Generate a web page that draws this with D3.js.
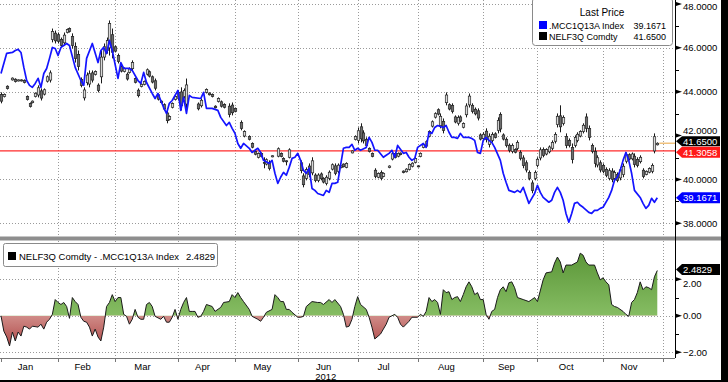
<!DOCTYPE html>
<html><head><meta charset="utf-8">
<script src="https://cdn.jsdelivr.net/npm/d3@7"></script>
<style>
body{margin:0;background:#fff;overflow:hidden}
svg{display:block}
text{font-family:"Liberation Sans",Arial,sans-serif}
</style>
</head><body>
<svg id="chart" width="728" height="382"></svg>
<script>
// ---------------- DATA ----------------
const months = ["Jan","Feb","Mar","Apr","May","Jun","Jul","Aug","Sep","Oct","Nov"];
const monthStart = [0,20,40,62,82,104,125,146,169,188,211,232]; // trading-day index of each month start
const yearLabel = "2012";
const priceTicks = [38,40,42,44,46,48];
const priceMinor = [39,41,43,45,47];
const spreadTicks = [-2,0,2];
const spreadMinor = [-1,1];

const blueName = ".MCC1Q13A Index", blueLast = 39.1671;
const nelfName = "NELF3Q Comdty", nelfLast = 41.65;
const refLevel = 41.3058;
const spreadName = "NELF3Q Comdty - .MCC1Q13A Index", spreadLast = 2.4829;

// [trading day, value]
const blueSeries = [
[0,44.83],[2,45.75],[4,45.79],[5,45.88],[6,45.93],[7,45.79],[8,45.11],[9,44.51],[10,44.29],[11,44.20],
[12,44.38],[13,44.61],[14,44.20],[15,44.83],[16,45.06],[17,45.52],[18,46.02],[19,45.97],[20,45.65],[21,46.02],
[22,46.11],[23,46.20],[24,46.11],[26,45.11],[28,44.51],[29,44.29],[30,45.52],[32,46.20],[34,45.33],[35,45.88],
[36,46.02],[37,45.74],[38,46.34],[39,45.88],[41,44.61],[42,45.33],[43,45.06],[45,45.06],[46,44.97],[48,44.51],
[49,44.38],[50,44.88],[51,44.42],[53,43.92],[54,43.69],[55,43.92],[56,43.60],[57,43.28],[58,43.01],[59,43.47],
[60,43.60],[62,44.06],[63,43.15],[64,43.74],[65,43.01],[66,43.83],[67,43.74],[70,43.69],[71,43.97],[72,43.24],
[74,43.24],[76,43.15],[77,42.83],[79,42.46],[80,42.60],[81,42.33],[82,42.10],[83,41.64],[84,41.42],[85,41.64],
[87,41.42],[88,41.23],[89,41.33],[90,41.42],[91,41.23],[92,40.87],[94,40.73],[95,40.87],[96,40.28],[97,39.82],
[98,40.10],[99,40.32],[100,40.19],[101,40.55],[102,40.96],[103,41.01],[104,41.19],[105,40.87],[106,40.41],[107,40.28],
[108,40.51],[109,39.59],[110,39.50],[111,39.36],[113,39.27],[114,39.50],[115,39.41],[116,39.82],[117,39.82],[118,39.87],
[120,41.42],[121,41.46],[122,41.46],[123,41.60],[124,41.33],[125,41.42],[126,41.33],[128,41.46],[129,41.92],[130,41.69],
[131,41.33],[132,41.33],[134,41.01],[135,41.10],[136,41.19],[137,41.33],[138,41.01],[139,41.55],[141,41.19],[142,41.23],
[143,41.01],[144,40.87],[145,40.96],[146,41.46],[148,41.64],[149,41.46],[150,42.15],[151,42.10],[152,42.37],[153,42.46],
[155,42.37],[156,42.46],[157,42.15],[158,41.92],[159,41.92],[160,41.87],[161,42.10],[162,41.92],[164,41.92],[165,41.87],
[166,41.78],[167,41.23],[168,41.19],[169,41.78],[170,41.92],[171,41.78],[172,41.69],[173,41.46],[175,40.87],[176,40.28],
[177,39.87],[178,39.50],[180,39.41],[181,39.50],[182,39.41],[183,39.64],[185,38.91],[186,39.14],[187,39.36],[188,39.73],
[189,39.41],[190,39.18],[192,38.96],[193,39.05],[194,39.41],[195,39.64],[196,39.41],[197,39.05],[198,38.45],[199,38.05],
[200,38.45],[201,38.91],[202,38.96],[203,38.82],[204,38.73],[206,38.50],[207,38.45],[208,38.59],[209,38.59],[210,38.68],
[211,38.73],[213,39.18],[214,39.50],[215,39.96],[216,40.10],[217,40.41],[218,40.87],[219,41.23],[220,40.87],[221,40.28],
[222,39.50],[224,39.18],[225,38.91],[226,38.68],[227,38.82],[228,39.14],[229,38.96],[230,39.1671]
];

// [trading day, open, high, low, close]
const nelfOHLC = [
[0,43.87,43.97,43.47,43.57],[1,43.78,43.92,43.74,43.88],[2,44.25,44.29,44.10,44.14],[4,44.54,44.65,44.51,44.62],
[5,44.57,44.61,44.42,44.46],[6,44.49,44.56,44.47,44.54],[7,44.54,44.56,44.47,44.49],[8,44.52,44.56,44.38,44.42],
[9,43.78,43.83,43.60,43.64],[10,43.47,43.51,43.28,43.32],[11,43.50,43.60,43.47,43.57],[12,43.78,43.97,43.74,43.93],
[13,43.85,44.29,43.74,44.18],[14,44.04,44.15,43.60,43.71],[15,43.89,44.15,43.83,44.09],[16,44.48,44.74,44.42,44.68],
[17,44.53,44.97,44.42,44.86],[18,46.38,46.88,46.25,46.75],[19,46.67,46.79,46.20,46.32],[20,46.60,46.70,46.20,46.30],
[21,46.38,46.47,46.02,46.11],[22,46.23,46.70,46.11,46.58],[23,46.70,46.88,46.66,46.84],[24,46.88,46.93,46.70,46.75],
[25,46.52,46.66,45.97,46.11],[26,46.07,46.25,45.33,45.51],[27,45.70,45.88,44.97,45.15],[28,44.56,44.65,44.20,44.29],
[29,43.72,44.20,43.60,44.08],[30,44.41,44.88,44.29,44.76],[31,44.35,44.97,44.20,44.82],[32,44.86,44.97,44.42,44.53],
[33,44.79,44.97,44.74,44.92],[34,44.30,44.38,43.97,44.05],[35,44.68,45.88,44.38,45.58],[36,45.58,46.20,45.43,46.05],
[37,45.89,46.47,45.74,46.33],[38,46.00,47.25,45.65,47.11],[39,46.60,46.88,45.52,45.80],[40,46.05,46.11,45.79,45.85],
[41,45.65,45.74,45.29,45.38],[42,45.14,45.20,44.88,44.94],[43,44.92,45.11,44.88,45.06],[44,44.80,44.88,44.51,44.58],
[45,44.88,45.11,44.83,45.05],[46,45.05,45.43,44.97,45.33],[47,44.60,44.65,44.38,44.43],[48,44.07,44.15,43.74,43.82],
[49,44.24,44.38,44.20,44.34],[50,44.33,44.51,44.29,44.47],[51,44.80,45.06,44.74,45.00],[52,44.91,44.97,44.65,44.71],
[53,44.68,44.74,44.38,44.44],[54,44.50,44.60,44.06,44.16],[55,43.86,43.92,43.60,43.66],[56,43.57,43.60,43.47,43.50],
[57,43.41,43.47,43.15,43.21],[58,43.03,43.15,42.56,42.68],[59,42.74,42.92,42.69,42.87],[60,43.29,43.51,43.24,43.46],
[61,43.65,43.83,43.60,43.78],[62,43.70,44.06,43.60,43.97],[63,43.99,44.20,43.15,43.36],[64,43.78,44.15,43.69,44.06],
[65,43.44,44.60,43.15,44.31],[69,43.44,43.51,43.15,43.22],[70,43.36,43.69,43.28,43.61],[72,43.97,44.15,43.92,44.10],
[73,43.94,43.97,43.83,43.86],[74,43.88,43.92,43.74,43.78],[75,43.34,43.38,43.24,43.27],[76,43.56,43.74,43.51,43.69],
[77,43.54,43.60,43.28,43.34],[78,43.42,43.47,43.24,43.29],[80,43.34,43.47,42.83,42.96],[81,43.39,43.51,42.92,43.04],
[82,43.24,43.28,43.06,43.10],[84,42.60,42.69,42.24,42.33],[85,41.98,42.24,41.92,42.18],[87,41.96,42.01,41.78,41.83],
[88,41.64,41.69,41.42,41.47],[89,41.28,41.33,41.10,41.15],[90,41.01,41.23,40.96,41.18],[91,41.19,41.23,41.01,41.05],
[92,40.78,41.01,40.51,40.74],[93,40.70,40.96,40.64,40.90],[94,40.78,40.87,40.41,40.50],[95,41.03,41.10,41.01,41.08],
[97,41.06,41.46,41.01,41.40],[98,41.19,41.23,41.01,41.05],[99,40.96,41.01,40.78,40.83],[100,40.85,40.87,40.64,40.83],
[101,41.01,41.42,40.96,41.35],[105,40.76,40.87,40.28,40.40],[106,40.16,40.28,39.64,39.76],[107,40.05,40.55,39.96,40.45],
[108,40.61,40.73,40.10,40.22],[109,40.30,41.01,40.19,40.85],[110,40.20,40.28,39.87,39.95],[111,39.95,40.28,39.87,40.20],
[112,40.25,40.32,39.96,40.03],[113,40.05,40.10,39.82,39.88],[114,39.82,40.19,39.73,40.10],[115,40.05,40.41,39.96,40.33],
[116,40.47,40.73,40.41,40.67],[117,40.62,40.73,40.19,40.28],[118,40.36,40.73,40.28,40.65],[119,40.54,40.64,40.51,40.61],
[120,40.70,40.73,40.55,40.58],[121,40.55,40.78,40.51,40.73],[123,41.21,41.33,41.19,41.30],[124,41.82,42.01,41.78,41.96],
[125,41.78,42.37,41.64,42.22],[126,42.40,42.56,41.69,41.85],[127,42.12,42.24,41.64,41.76],[128,41.83,41.92,41.46,41.55],
[129,41.42,41.46,41.23,41.28],[130,41.19,41.23,41.01,41.05],[131,40.42,40.51,40.05,40.14],[132,40.10,40.32,40.05,40.27],
[133,40.32,40.41,39.96,40.05],[134,40.14,40.32,40.10,40.28],[136,40.54,40.64,40.51,40.61],[137,40.93,41.23,40.87,41.17],
[138,41.18,41.23,40.96,41.01],[139,41.06,41.23,41.01,41.19],[140,41.20,41.23,41.10,41.13],[141,40.38,40.41,40.28,40.31],
[142,40.35,40.51,40.32,40.47],[143,40.46,40.73,40.41,40.68],[144,40.60,40.78,40.55,40.74],[145,40.78,41.01,40.73,40.96],
[146,40.62,40.64,40.55,40.58],[147,41.05,41.23,41.01,41.19],[148,41.46,41.64,41.42,41.60],[149,41.52,41.78,41.46,41.72],
[150,41.97,42.24,41.92,42.18],[151,42.43,42.69,42.37,42.63],[152,42.84,43.06,42.78,43.00],[153,43.18,43.24,42.92,42.98],
[154,42.45,43.01,42.33,42.88],[155,42.65,42.78,42.10,42.23],[156,43.50,43.97,43.38,43.85],[157,43.41,43.47,43.15,43.21],
[158,43.38,43.47,43.01,43.10],[159,42.85,42.92,42.56,42.62],[160,42.56,42.92,42.46,42.83],[161,42.85,42.92,42.60,42.66],
[162,42.38,42.60,42.33,42.55],[163,42.95,43.47,42.83,43.35],[164,43.40,43.92,43.28,43.80],[165,43.38,43.47,43.01,43.10],
[166,43.20,43.28,42.92,42.99],[167,43.13,43.24,42.69,42.80],[168,42.03,42.10,41.78,41.84],[169,41.86,42.15,41.78,42.06],
[170,42.20,42.33,41.69,41.82],[171,41.60,42.10,41.46,41.97],[172,41.78,42.15,41.69,42.05],[173,42.08,42.15,41.87,41.92],
[174,42.24,42.83,42.10,42.69],[175,42.96,43.06,42.15,42.30],[176,42.03,42.10,41.78,41.84],[177,41.83,41.92,41.46,41.55],
[178,41.56,41.64,41.23,41.32],[179,41.28,41.64,41.19,41.55],[180,41.37,41.42,41.19,41.24],[181,41.42,41.78,41.33,41.69],
[182,41.24,41.33,40.87,40.96],[183,40.98,41.10,40.51,40.63],[184,40.76,40.87,40.32,40.43],[185,40.32,40.41,39.96,40.05],
[186,39.84,39.96,39.37,39.49],[187,40.05,40.41,39.96,40.32],[188,40.64,41.01,40.55,40.92],[189,40.98,41.46,40.87,41.35],
[190,41.37,41.46,41.01,41.10],[191,41.16,41.42,41.10,41.36],[192,41.26,41.55,41.19,41.48],[193,41.42,41.78,41.33,41.69],
[194,41.74,42.15,41.64,42.05],[195,42.50,43.01,42.37,42.88],[196,42.90,43.38,42.15,42.40],[197,42.55,42.92,42.46,42.83],
[198,41.96,42.10,41.42,41.55],[199,41.78,41.87,41.46,41.55],[200,41.46,41.64,40.73,40.91],[201,41.55,42.01,41.46,41.92],
[202,41.78,42.15,41.69,42.06],[203,41.98,42.24,41.92,42.18],[204,42.19,42.56,42.10,42.47],[205,42.85,43.01,42.15,42.32],
[206,42.33,42.46,41.78,41.92],[207,41.55,41.64,41.19,41.28],[208,41.28,41.46,40.55,40.73],[209,40.66,41.10,40.55,40.99],
[210,40.76,40.87,40.32,40.43],[211,40.64,40.73,40.28,40.37],[212,40.46,40.55,40.10,40.19],[213,40.05,40.51,39.96,40.40],
[214,40.38,40.51,39.87,40.00],[215,40.05,40.41,39.96,40.32],[216,40.23,40.32,39.87,39.96],[217,40.07,40.55,39.96,40.44],
[218,40.22,40.73,40.10,40.60],[219,40.83,41.23,40.73,41.13],[220,41.13,41.19,40.87,40.93],[221,40.94,41.23,40.87,41.16],
[222,41.06,41.19,40.55,40.68],[223,40.91,41.01,40.55,40.64],[224,40.81,41.10,40.73,41.01],[225,40.42,40.51,40.05,40.14],
[226,40.23,40.41,40.19,40.37],[227,40.33,40.55,40.28,40.50],[228,40.37,40.73,40.28,40.64],[229,41.30,42.10,41.19,41.95],
[230,41.58,41.69,41.55,41.65]
];

// [trading day, spread value]
const spreadSeries = [
[0,0.00],[1,-0.84],[2,-1.16],[3,-1.65],[4,-0.89],[5,-1.38],[6,-0.89],[7,-1.11],[8,-0.57],[9,-0.62],
[10,-0.73],[11,-0.57],[13,-0.62],[14,-0.46],[15,-0.73],[16,-0.35],[17,-0.19],[18,0.08],[19,0.89],[20,0.73],
[21,0.62],[22,0.73],[23,0.51],[24,-0.14],[25,1.00],[26,0.78],[27,0.62],[28,-0.08],[29,-0.30],[30,-0.35],
[31,-0.62],[32,-1.11],[33,-0.73],[34,-1.16],[35,-1.38],[36,-0.62],[37,0.51],[38,0.73],[39,1.16],[40,0.78],
[41,1.00],[42,1.00],[43,0.08],[44,-0.03],[45,-0.46],[46,-0.19],[47,0.35],[48,-0.08],[49,-0.19],[50,-0.19],
[51,0.62],[52,0.73],[53,0.51],[54,-0.03],[56,-0.19],[57,-0.03],[58,-0.35],[59,-0.35],[60,-0.08],[61,0.35],
[62,-0.19],[63,0.35],[64,0.73],[65,1.00],[66,0.24],[67,0.24],[68,0.24],[69,-0.08],[70,-0.03],[71,0.24],
[72,0.62],[74,0.51],[75,0.24],[77,0.46],[78,0.73],[80,0.78],[81,1.16],[82,1.00],[83,1.27],[84,1.00],
[85,0.78],[87,0.35],[88,-0.03],[90,-0.19],[91,-0.30],[92,-0.08],[93,0.19],[95,0.35],[96,1.16],[97,1.00],
[98,0.78],[99,0.78],[100,0.35],[101,0.35],[102,0.19],[104,-0.08],[105,-0.08],[106,-0.03],[107,0.51],[109,0.78],
[111,0.73],[112,0.73],[113,0.62],[115,0.89],[116,0.73],[117,0.89],[119,0.51],[120,0.08],[121,-0.62],[122,-0.57],
[123,-0.19],[124,0.51],[125,1.05],[126,0.62],[128,0.35],[129,-0.08],[130,-0.62],[131,-1.27],[133,-1.00],[134,-0.73],
[135,-0.46],[136,-0.08],[138,0.08],[139,-0.08],[140,-0.46],[141,-0.62],[143,-0.30],[144,-0.08],[146,-0.08],[147,0.08],
[148,-0.03],[149,0.24],[150,1.00],[151,0.78],[152,0.89],[153,0.73],[154,0.08],[155,1.43],[156,1.27],[157,1.32],
[158,0.89],[159,1.00],[160,1.05],[161,0.78],[162,1.16],[163,1.59],[164,1.86],[165,1.59],[166,1.16],[167,1.27],
[168,0.89],[169,0.89],[170,0.08],[171,-0.19],[172,0.24],[173,0.35],[174,1.00],[175,1.43],[176,1.59],[177,1.32],
[178,1.81],[179,1.86],[180,1.54],[181,1.00],[183,0.89],[185,0.78],[186,0.89],[187,1.00],[188,0.78],[190,1.97],
[191,2.35],[193,2.41],[194,2.89],[195,3.22],[196,2.95],[197,2.35],[198,2.78],[200,2.78],[202,2.95],[203,3.43],
[204,3.32],[205,2.95],[206,2.78],[208,2.78],[209,2.35],[210,1.97],[211,2.08],[212,1.86],[213,1.70],[214,0.62],
[215,0.51],[216,0.46],[218,0.24],[219,0.08],[220,-0.03],[221,0.73],[222,0.89],[223,1.27],[224,1.86],[225,1.43],
[226,1.59],[227,1.54],[228,1.43],[229,2.14],[230,2.4829]
];

// ---------------- LAYOUT ----------------
const svg = d3.select("#chart");
const AX = 675;                 // right axis x
const TOP = {y0:0, y1:236};
const BOT = {y0:241, y1:358};

const x = d3.scaleLinear().domain([monthStart[0], monthStart[monthStart.length-1]]).range([1, 663]);
const yP = d3.scaleLinear().domain([38,48]).range([223.3,4]);
const yS = d3.scaleLinear().domain([-2,2]).range([352.3,279.3]);

svg.append("rect").attr("width",728).attr("height",382).attr("fill","#fff");

const defs = svg.append("defs");
defs.append("clipPath").attr("id","clipTop").append("rect").attr("x",0).attr("y",TOP.y0).attr("width",AX).attr("height",TOP.y1-TOP.y0);
defs.append("clipPath").attr("id","clipPos").append("rect").attr("x",0).attr("y",BOT.y0).attr("width",AX).attr("height",yS(0)-BOT.y0);
defs.append("clipPath").attr("id","clipNeg").append("rect").attr("x",0).attr("y",yS(0)).attr("width",AX).attr("height",BOT.y1-yS(0));
const gG = defs.append("linearGradient").attr("id","gGreen").attr("gradientUnits","userSpaceOnUse")
  .attr("x1",0).attr("x2",0).attr("y1",yS(3.5)).attr("y2",yS(0));
gG.append("stop").attr("offset",0).attr("stop-color","#5b9638");
gG.append("stop").attr("offset",1).attr("stop-color","#86bd63");
const gR = defs.append("linearGradient").attr("id","gRed").attr("gradientUnits","userSpaceOnUse")
  .attr("x1",0).attr("x2",0).attr("y1",yS(0)).attr("y2",yS(-2));
gR.append("stop").attr("offset",0).attr("stop-color","#d08c88");
gR.append("stop").attr("offset",1).attr("stop-color","#a93b3b");

// ---------------- GRIDS ----------------
const grid = svg.append("g").attr("stroke","#9a9a9a").attr("stroke-dasharray","1,2").attr("stroke-width",1);
priceTicks.forEach(v=>grid.append("line").attr("x1",0).attr("x2",AX).attr("y1",Math.round(yP(v))+0.5).attr("y2",Math.round(yP(v))+0.5));
spreadTicks.forEach(v=>grid.append("line").attr("x1",0).attr("x2",AX).attr("y1",Math.round(yS(v))+0.5).attr("y2",Math.round(yS(v))+0.5));
monthStart.slice(1).forEach(d=>{
  const xx = Math.round(x(d))+0.5;
  grid.append("line").attr("x1",xx).attr("x2",xx).attr("y1",TOP.y0).attr("y2",TOP.y1);
  grid.append("line").attr("x1",xx).attr("x2",xx).attr("y1",BOT.y0).attr("y2",BOT.y1);
});

// ---------------- TOP PANEL ----------------
const topG = svg.append("g").attr("clip-path","url(#clipTop)");
topG.append("line").attr("x1",0).attr("x2",AX).attr("y1",yP(refLevel)).attr("y2",yP(refLevel))
  .attr("stroke","#ff2b2b").attr("stroke-width",1.2);

// candles
const cg = topG.append("g");
nelfOHLC.forEach(([d,o,h,l,c])=>{
  const cx = Math.round(x(d))+0.5;
  cg.append("line").attr("x1",cx).attr("x2",cx).attr("y1",yP(h)).attr("y2",yP(l)).attr("stroke","#1a1a1a").attr("stroke-width",1);
  const yt = yP(Math.max(o,c)), yb = yP(Math.min(o,c));
  cg.append("rect").attr("x",cx-1.2).attr("y",yt).attr("width",2.4).attr("height",Math.max(1,yb-yt))
    .attr("fill", c>=o ? "#d8d8d8" : "#6e6e6e").attr("stroke","#222").attr("stroke-width",0.7);
});

topG.append("path").datum(blueSeries)
  .attr("d", d3.line().x(d=>x(d[0])).y(d=>yP(d[1])))
  .attr("fill","none").attr("stroke","#1414ff").attr("stroke-width",1.7).attr("stroke-linejoin","round");

// last-price guide
svg.append("line").attr("x1",x(nelfOHLC[nelfOHLC.length-1][0])+2).attr("x2",AX)
  .attr("y1",yP(nelfLast)).attr("y2",yP(nelfLast)).attr("stroke","#f0c27e").attr("stroke-width",1.5);

// ---------------- BOTTOM PANEL ----------------
const area = d3.area().x(d=>x(d[0])).y0(yS(0)).y1(d=>yS(d[1]));
svg.append("path").datum(spreadSeries).attr("d",area).attr("fill","url(#gGreen)").attr("clip-path","url(#clipPos)");
svg.append("path").datum(spreadSeries).attr("d",area).attr("fill","url(#gRed)").attr("clip-path","url(#clipNeg)");
svg.append("path").datum(spreadSeries).attr("d",d3.line().x(d=>x(d[0])).y(d=>yS(d[1])))
  .attr("fill","none").attr("stroke","#1a1a1a").attr("stroke-width",1);

// separator
svg.append("rect").attr("x",0).attr("y",236.5).attr("width",721).attr("height",4).attr("fill","#8e8e8e");

// ---------------- AXES ----------------
svg.append("line").attr("x1",AX+0.5).attr("x2",AX+0.5).attr("y1",0).attr("y2",BOT.y1).attr("stroke","#000");
svg.append("line").attr("x1",0).attr("x2",AX).attr("y1",BOT.y1+0.5).attr("y2",BOT.y1+0.5).attr("stroke","#777");

function majorTick(y){
  svg.append("path").attr("d",`M${AX+1},${y-2} L${AX+7},${y} L${AX+1},${y+2} Z`).attr("fill","#000");
}
function minorTick(y){
  svg.append("line").attr("x1",AX).attr("x2",AX+4).attr("y1",y).attr("y2",y).attr("stroke","#000");
}
const fmtP = d3.format(".4f"), fmtS = d3.format(".2f");
priceTicks.forEach(v=>{
  majorTick(yP(v));
  // labels clamped inside the frame; 42 nudged up above the last-value boxes
  let ly = Math.max(yP(v),6.5);
  if (v === 42) ly -= 4.5;
  svg.append("text").attr("x",AX+8).attr("y",ly).attr("dy","0.35em").attr("font-size","9.5px").attr("fill","#000").text(fmtP(v));
});
priceMinor.forEach(v=>minorTick(Math.round(yP(v))+0.5));
spreadTicks.forEach(v=>{
  majorTick(yS(v));
  const ly = v === 2 ? yS(v)+4 : yS(v);
  svg.append("text").attr("x",AX+8).attr("y",ly).attr("dy","0.35em").attr("font-size","9.5px").attr("fill","#000").text(fmtS(v));
});
spreadMinor.forEach(v=>minorTick(Math.round(yS(v))+0.5));

// x axis
monthStart.forEach(d=>{
  const xx = Math.round(x(d))+0.5;
  svg.append("line").attr("x1",xx).attr("x2",xx).attr("y1",BOT.y1).attr("y2",BOT.y1+4).attr("stroke","#777");
});
months.forEach((m,i)=>{
  const cx = x((monthStart[i]+monthStart[i+1])/2) - 4;
  svg.append("text").attr("x",cx).attr("y",370).attr("text-anchor","middle").attr("font-size","9.5px").attr("fill","#000").text(m);
});
svg.append("text").attr("x",x((monthStart[5]+monthStart[6])/2)-2).attr("y",379.5).attr("text-anchor","middle")
  .attr("font-size","9.5px").attr("fill","#000").text(yearLabel);

// value boxes
function valBox(y, txt, fill, h){
  const hh = h/2;
  svg.append("path").attr("d",`M${AX+1},${y} L${AX+7},${y-hh} L720,${y-hh} L720,${y+hh} L${AX+7},${y+hh} Z`).attr("fill",fill);
  svg.append("text").attr("x",AX+8).attr("y",y).attr("dy","0.35em").attr("font-size","9.5px").attr("fill","#fff").text(txt);
}
valBox(yP(nelfLast)-2, fmtP(nelfLast), "#000", 10);
valBox(yP(refLevel)+1.5, fmtP(refLevel), "#ff1a1a", 11);
valBox(yP(blueLast), fmtP(blueLast), "#0000ff", 11);
valBox(yS(spreadLast)-1, fmtP(spreadLast), "#000", 11);

// ---------------- LEGENDS ----------------
const LF = "9px";
const lg = svg.append("g");
lg.append("rect").attr("x",532.5).attr("y",-2).attr("width",140).attr("height",47.5).attr("rx",3)
  .attr("fill","#fff").attr("stroke","#8a8a8a");
lg.append("text").attr("x",602).attr("y",16).attr("text-anchor","middle").attr("font-size","10px").text("Last Price");
lg.append("rect").attr("x",539).attr("y",21).attr("width",8).attr("height",8).attr("fill","#0000ff");
lg.append("text").attr("x",549).attr("y",28.5).attr("font-size",LF).text(blueName);
lg.append("text").attr("x",666).attr("y",28.5).attr("text-anchor","end").attr("font-size",LF).text(fmtP(blueLast));
lg.append("rect").attr("x",539).attr("y",32).attr("width",8).attr("height",8).attr("fill","#000");
lg.append("text").attr("x",549).attr("y",39.5).attr("font-size",LF).text(nelfName);
lg.append("text").attr("x",666).attr("y",39.5).attr("text-anchor","end").attr("font-size",LF).text(fmtP(nelfLast));

const bl = svg.append("g");
bl.append("rect").attr("x",3.5).attr("y",243.5).attr("width",214).attr("height",23).attr("rx",2)
  .attr("fill","#fff").attr("stroke","#8a8a8a");
bl.append("rect").attr("x",8).attr("y",252).attr("width",8).attr("height",8).attr("fill","#000");
bl.append("text").attr("x",19).attr("y",259.5).attr("font-size","9.5px").text(spreadName);
bl.append("text").attr("x",215).attr("y",259.5).attr("text-anchor","end").attr("font-size","9.5px").text(fmtP(spreadLast));

// frame
svg.append("rect").attr("x",721).attr("y",0).attr("width",7).attr("height",382).attr("fill","#000");
svg.append("rect").attr("x",0).attr("y",380).attr("width",728).attr("height",2).attr("fill","#000");
</script>
</body></html>
